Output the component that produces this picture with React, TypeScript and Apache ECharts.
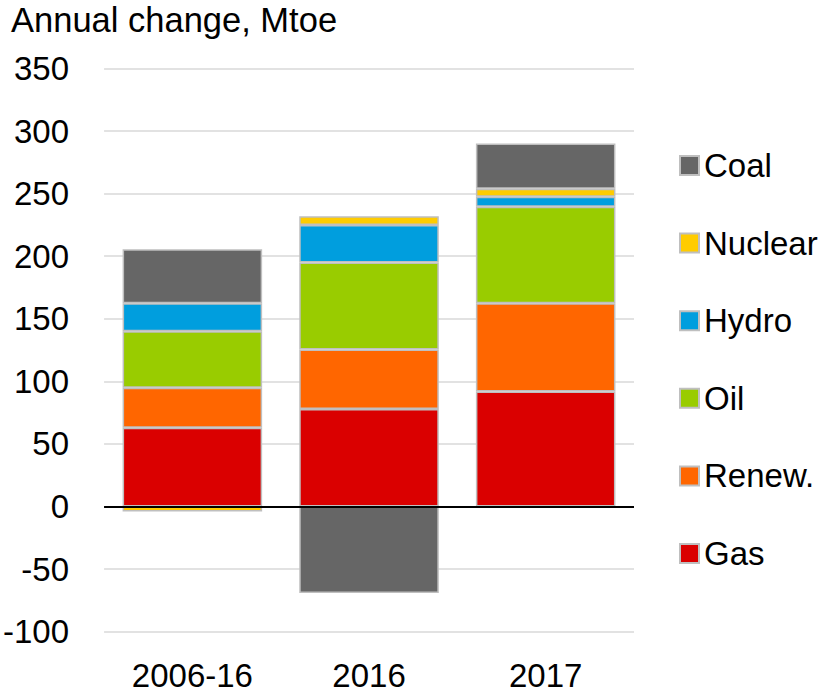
import React, { useEffect, useRef } from "react";
import * as echarts from "echarts";

const categories = ["2006-16", "2016", "2017"];
const gas = [63, 78, 92];
const renew = [32, 47.5, 70.5];
const oil = [45, 69.5, 77];
const hydro = [22.5, 30, 8];
const nuclear = [-4, 7, 6.5];
const coal = [43, -69, 36];

const seriesNames = ["Gas", "Renew.", "Oil", "Hydro", "Nuclear", "Coal"];
const seriesColors = ["#DA0000", "#FF6600", "#99CC00", "#009EDE", "#FFCC00", "#666666"];
const seriesValues = [gas, renew, oil, hydro, nuclear, coal];
const legendOrder = ["Coal", "Nuclear", "Hydro", "Oil", "Renew.", "Gas"];
const yTicks = { min: -100, max: 350, interval: 50 };

const FONT = "'Liberation Sans', Arial, sans-serif";

export default function App() {
  const ref = useRef<HTMLDivElement>(null);
  useEffect(() => {
    document.body.style.margin = "0";
    if (!ref.current) return;
    const chart = echarts.init(ref.current, null, { renderer: "svg" });
    const series: any[] = seriesNames.map((name, i) => ({
      name,
      type: "bar",
      stack: "total",
      barWidth: "79%",
      data: seriesValues[i],
      itemStyle: { color: seriesColors[i], borderColor: "#BFBFBF", borderWidth: 1.5 },
      emphasis: { disabled: true },
    }));
    series[0].markLine = {
      silent: true,
      symbol: "none",
      label: { show: false },
      lineStyle: { color: "#000000", width: 2, type: "solid" },
      data: [{ yAxis: 0 }],
    };
    chart.setOption({
      animation: false,
      textStyle: { fontFamily: FONT },
      title: {
        text: "Annual change, Mtoe",
        left: 6,
        top: -3,
        textStyle: { fontFamily: FONT, fontSize: 34.5, fontWeight: "normal", color: "#000" },
      },
      legend: {
        orient: "vertical",
        left: 674,
        top: 144,
        data: legendOrder,
        icon: "rect",
        itemWidth: 19,
        itemHeight: 19,
        itemGap: 44.6,
        textStyle: { fontFamily: FONT, fontSize: 33, color: "#000", lineHeight: 33, padding: [0, 0, 0, 0] },
      },
      grid: { left: 98, right: 195, top: 68.5, bottom: 62.3, containLabel: false },
      xAxis: {
        type: "category",
        data: categories,
        axisLine: { show: false, onZero: false },
        axisTick: { show: false },
        axisLabel: { fontFamily: FONT, fontSize: 33, color: "#000", margin: 27 },
      },
      yAxis: {
        type: "value",
        min: yTicks.min,
        max: yTicks.max,
        interval: yTicks.interval,
        axisLine: { show: false },
        axisTick: { show: false },
        splitLine: { lineStyle: { color: "#D9D9D9", width: 1.5 } },
        axisLabel: { fontFamily: FONT, fontSize: 33, color: "#000", margin: 35, padding: [0, 0, 6, 0] },
      },
      series,
    });
    return () => chart.dispose();
  }, []);
  return <div ref={ref} style={{ width: 829, height: 694 }} />;
}
